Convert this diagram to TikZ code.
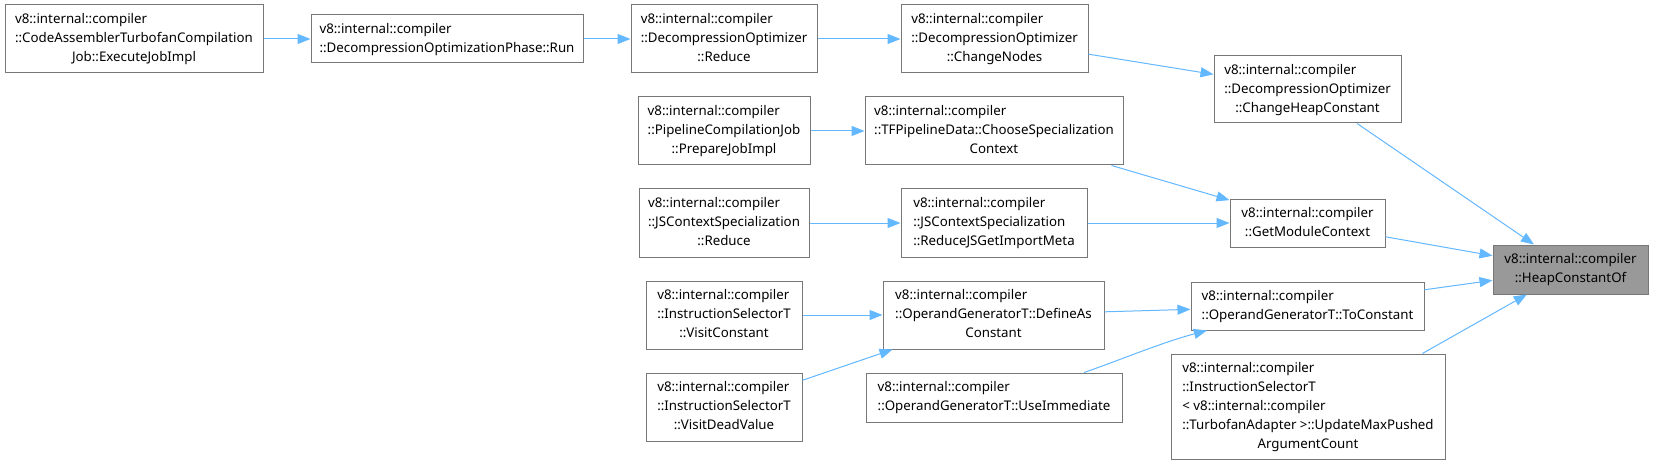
\documentclass[tikz,border=0pt]{standalone}
\usepackage{fontspec}
\setmainfont{Noto Sans}
\usetikzlibrary{arrows.meta,calc}
\definecolor{edgeblue}{HTML}{63B8FF}
\definecolor{boxgray}{HTML}{777777}
\definecolor{hlfill}{HTML}{999999}
\newcommand{\lns}[1]{\begin{tabular}{@{}l@{}}#1\end{tabular}}
\newcommand{\cln}[1]{\multicolumn{1}{@{}c@{}}{#1}}
\tikzset{
  fnbox/.style={draw=boxgray, fill=white, line width=1pt, inner sep=0pt, rectangle,
    font=\fontsize{13.3}{19}\selectfont, text=black},
  hlbox/.style={fnbox, fill=hlfill},
  callarrow/.style={draw=edgeblue, line width=1pt, -{Triangle[length=13pt,width=10pt]}}
}
\begin{document}
\begin{tikzpicture}[x=1pt,y=-1pt]
\useasboundingbox (0,0) rectangle (1653,465);
\fill[white] (0,0) rectangle (1653,465);

\node[fnbox, minimum width=258pt, minimum height=68pt] (n1) at (134,39)
  {\lns{v8::internal::compiler\\::CodeAssemblerTurbofanCompilation\\\cln{Job::ExecuteJobImpl}}};
\node[fnbox, minimum width=272pt, minimum height=48pt] (n2) at (447,39)
  {\lns{v8::internal::compiler\\::DecompressionOptimizationPhase::Run}};
\node[fnbox, minimum width=186pt, minimum height=68pt] (n3) at (724,39)
  {\lns{v8::internal::compiler\\::DecompressionOptimizer\\\cln{::Reduce}}};
\node[fnbox, minimum width=187pt, minimum height=68pt] (n4) at (994.5,39)
  {\lns{v8::internal::compiler\\::DecompressionOptimizer\\\cln{::ChangeNodes}}};
\node[fnbox, minimum width=187pt, minimum height=67pt] (n5) at (1307.5,89.5)
  {\lns{v8::internal::compiler\\::DecompressionOptimizer\\\cln{::ChangeHeapConstant}}};
\node[fnbox, minimum width=172pt, minimum height=68pt] (n6) at (724,131)
  {\lns{v8::internal::compiler\\::PipelineCompilationJob\\\cln{::PrepareJobImpl}}};
\node[fnbox, minimum width=258pt, minimum height=68pt] (n7) at (994,131)
  {\lns{v8::internal::compiler\\::TFPipelineData::ChooseSpecialization\\\cln{Context}}};
\node[fnbox, minimum width=170pt, minimum height=68pt] (n8) at (724,223)
  {\lns{v8::internal::compiler\\::JSContextSpecialization\\\cln{::Reduce}}};
\node[fnbox, minimum width=186pt, minimum height=68pt] (n9) at (994,223)
  {\lns{v8::internal::compiler\\::JSContextSpecialization\\\cln{::ReduceJSGetImportMeta}}};
\node[fnbox, minimum width=155pt, minimum height=48pt] (n10) at (1307.5,223)
  {\lns{v8::internal::compiler\\\cln{::GetModuleContext}}};
\node[hlbox, minimum width=155pt, minimum height=49pt] (n11) at (1570.5,269.5)
  {\lns{v8::internal::compiler\\\cln{::HeapConstantOf}}};
\node[fnbox, minimum width=156pt, minimum height=68pt] (n12) at (724,315)
  {\lns{v8::internal::compiler\\::InstructionSelectorT\\\cln{::VisitConstant}}};
\node[fnbox, minimum width=221pt, minimum height=68pt] (n13) at (993.5,315)
  {\lns{v8::internal::compiler\\::OperandGeneratorT::DefineAs\\\cln{Constant}}};
\node[fnbox, minimum width=233pt, minimum height=48pt] (n14) at (1307.5,306)
  {\lns{v8::internal::compiler\\::OperandGeneratorT::ToConstant}};
\node[fnbox, minimum width=156pt, minimum height=68pt] (n15) at (724,407)
  {\lns{v8::internal::compiler\\::InstructionSelectorT\\\cln{::VisitDeadValue}}};
\node[fnbox, minimum width=256pt, minimum height=49pt] (n16) at (994,397.5)
  {\lns{v8::internal::compiler\\::OperandGeneratorT::UseImmediate}};
\node[fnbox, minimum width=274pt, minimum height=105pt] (n17) at (1308,406.5)
  {\lns{v8::internal::compiler\\::InstructionSelectorT\\< v8::internal::compiler\\::TurbofanAdapter >::UpdateMaxPushed\\\cln{ArgumentCount}}};

\draw[callarrow] (n1.east) -- (n2.west);
\draw[callarrow] (n2.east) -- (n3.west);
\draw[callarrow] (n3.east) -- (n4.west);
\draw[callarrow] (n4) -- (n5);
\draw[callarrow] (n5) -- (n11);
\draw[callarrow] (n6.east) -- (n7.west);
\draw[callarrow] (n7) -- (n10);
\draw[callarrow] (n8.east) -- (n9.west);
\draw[callarrow] (n9.east) -- (n10.west);
\draw[callarrow] (n10) -- (n11);
\draw[callarrow] (n12.east) -- (n13.west);
\draw[callarrow] (n15) -- (n13);
\draw[callarrow] (n13) -- (n14);
\draw[callarrow] ($(n16.north west)!0.85!(n16.north east)$) .. controls (1115,362) and (1160,343) .. ($(n14.south west)!0.07!(n14.south east)$);
\draw[callarrow] (n14) -- (n11);
\draw[callarrow] ($(n17.north west)!0.916!(n17.north east)$) -- ($(n11.south west)!0.22!(n11.south east)$);
\end{tikzpicture}
\end{document}
